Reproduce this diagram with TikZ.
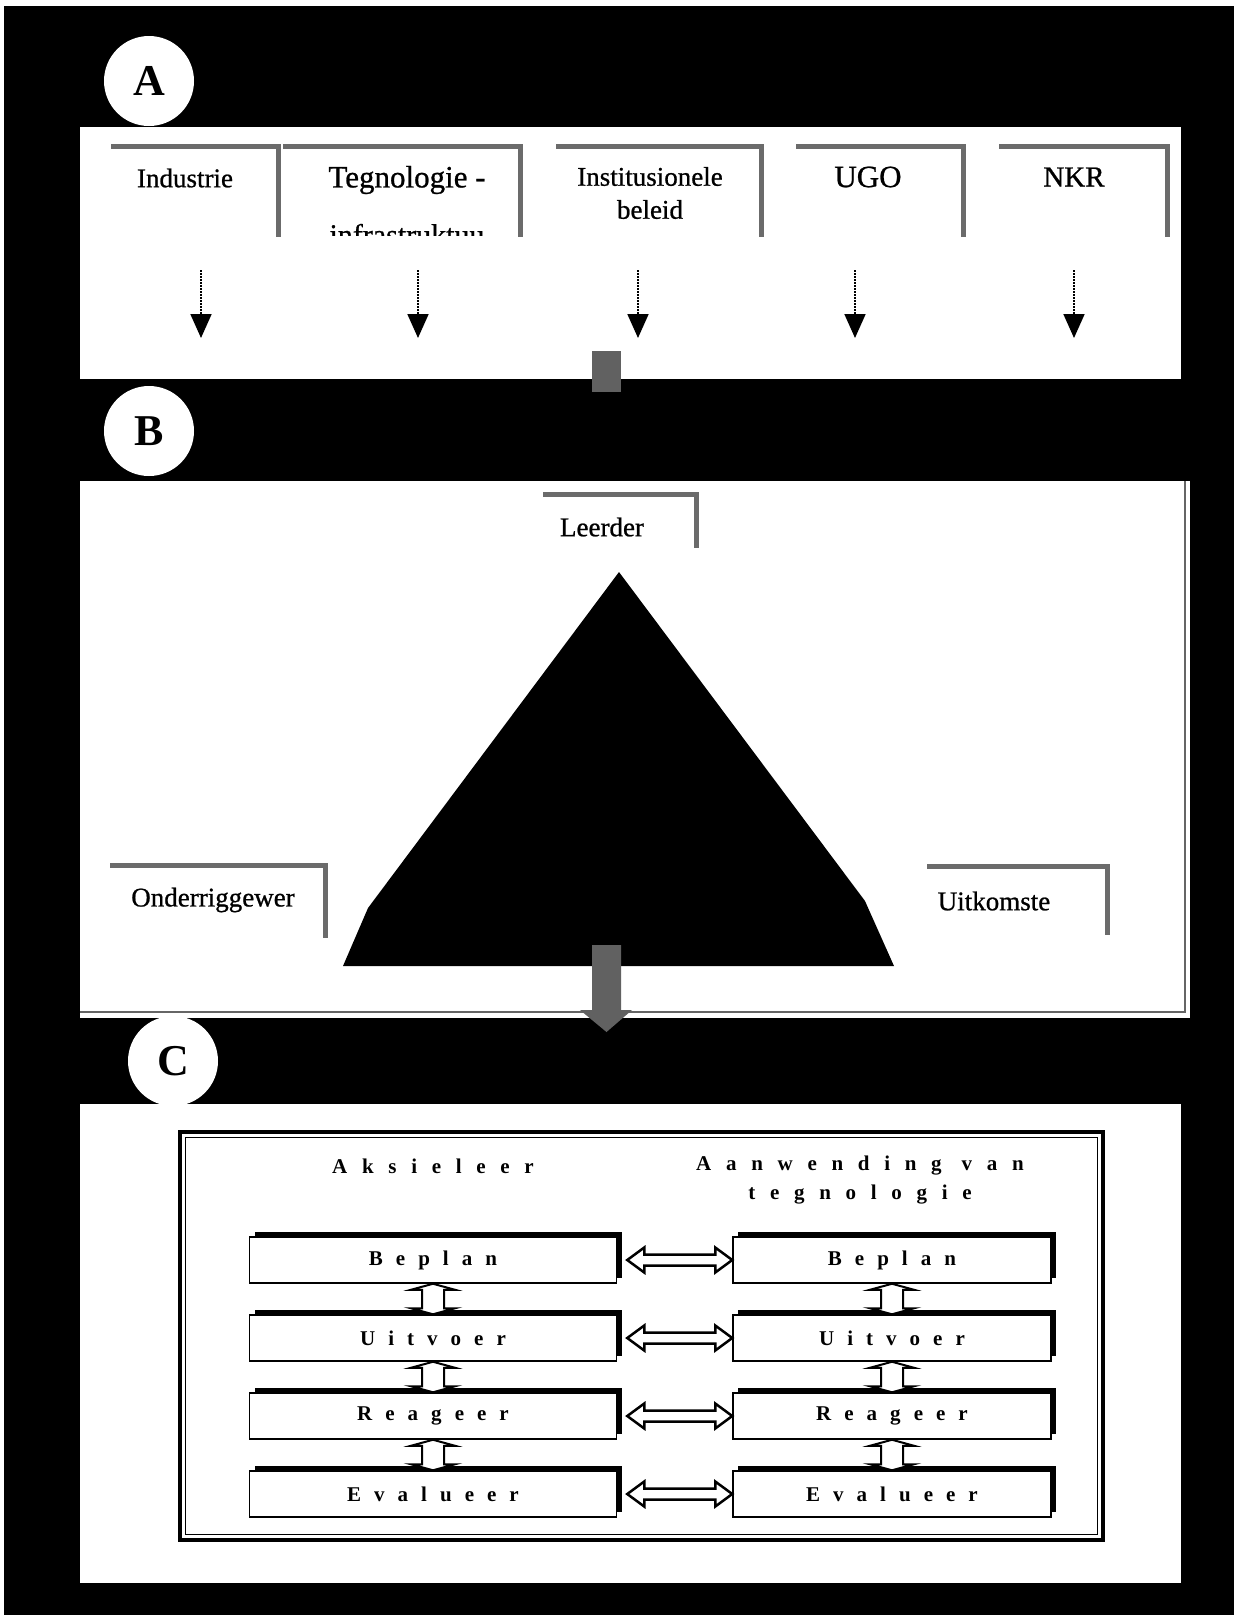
\documentclass[tikz,border=0pt]{standalone}
\usepackage{fontspec}
\setmainfont{Liberation Serif}
\newfontfamily\labelfont{Liberation Serif}[FakeBold=0.8]
\newfontfamily\boxfont{Liberation Serif}[LetterSpace=62]
\newfontfamily\headfont{Liberation Serif}[LetterSpace=70]
\usetikzlibrary{calc,arrows.meta,shadows}

% outlined double arrows between two named points
\newcommand\hdarrow[2]{\draw[openarrow] ($(#1)$) -- ($(#1)+(17,-12.5)$) -- ($(#1)+(17,-5.5)$) -- ($(#2)+(-17,-5.5)$) -- ($(#2)+(-17,-12.5)$) -- ($(#2)$) -- ($(#2)+(-17,12.5)$) -- ($(#2)+(-17,5.5)$) -- ($(#1)+(17,5.5)$) -- ($(#1)+(17,12.5)$) -- cycle;}
\newcommand\vdarrow[2]{\draw[openarrow, line width=2pt] ($(#1)$) -- ($(#1)+(22,6)$) -- ($(#1)+(11,6)$) -- ($(#2)+(11,-6)$) -- ($(#2)+(22,-6)$) -- ($(#2)$) -- ($(#2)+(-22,-6)$) -- ($(#2)+(-11,-6)$) -- ($(#1)+(-11,6)$) -- ($(#1)+(-22,6)$) -- cycle;}

\tikzset{
  panel/.style={fill=white},
  badge/.style={circle, fill=white, minimum size=90pt, inner sep=0pt, font=\fontsize{44}{44}\selectfont\bfseries},
  tab/.style={draw=black!58, line width=5pt, line join=miter},
  label/.style={font=\labelfont\fontsize{27}{33}\selectfont, align=center, inner sep=0pt},
  flowarrow/.style={line width=1.8pt, dash pattern=on 2pt off 1pt, -{Triangle[width=21pt,length=24pt]}},
  grayblock/.style={fill=black!62},
  stepbox/.style={draw=black, line width=1.5pt, fill=white, inner sep=0pt,
    font=\boxfont\bfseries\fontsize{21}{21}\selectfont,
    drop shadow={shadow xshift=5pt, shadow yshift=5pt, fill=black, opacity=1}},
  openarrow/.style={draw=black, line width=2.5pt, fill=white, line join=miter},
  headtext/.style={font=\headfont\bfseries\fontsize{21}{29}\selectfont, align=center, inner sep=0pt},
}

\begin{document}
\begin{tikzpicture}[x=1pt,y=-1pt]
\useasboundingbox (0,0) rectangle (1234,1615);
\fill[white] (0,0) rectangle (1234,1615);
\fill[black] (4,6) rectangle (1234,1615);

% three panels
\fill[panel] (80,127) rectangle (1181,379);
\fill[panel] (80,481) rectangle (1190,1018);
\draw[black!60, line width=2pt] (80,1012) -- (1185,1012) -- (1185,481);
\fill[panel] (80,1104) rectangle (1181,1583);

% section badges
\node[badge] (cA) at (149,81) {A};
\node[badge] (cB) at (149,431) {B};
\node[badge] (cC) at (173,1061) {C};

% ---- section A ----
\draw[tab] (111,146) -- (278,146) -- (278,237);
\draw[tab] (283,146) -- (520,146) -- (520,237);
\draw[tab] (556,146) -- (761,146) -- (761,237);
\draw[tab] (796,146) -- (963,146) -- (963,237);
\draw[tab] (999,146) -- (1167,146) -- (1167,237);

\node[label] (industrie) at (185,178) {Industrie};
\node[label, font=\labelfont\fontsize{31}{31}\selectfont] (tegno) at (407,180) {Tegnologie -};
\begin{scope}
  \clip (283,190) rectangle (515,235);
  \node[label, font=\labelfont\fontsize{30}{30}\selectfont, anchor=base] (infra) at (407,245) {infrastruktuu};
\end{scope}
\node[label] (instit) at (650,193) {Institusionele\\beleid};
\node[label, font=\labelfont\fontsize{31}{31}\selectfont] (ugo) at (868,177) {UGO};
\node[label, font=\labelfont\fontsize{29}{29}\selectfont] (nkr) at (1074,177) {NKR};

\foreach \n/\x in {1/201,2/418,3/638,4/855,5/1074}{
  \coordinate (f\n s) at (\x,270);
  \coordinate (f\n e) at (\x,338);
  \draw[flowarrow] (f\n s) -- (f\n e);
}

\node[grayblock, minimum width=29pt, minimum height=41pt, inner sep=0pt] (linkAB) at (606.5,371.5) {};

% ---- section B ----
\fill[black] (619,572) -- (865,901) -- (894,966) -- (343,966) -- (368,908) -- cycle;

\draw[tab] (543,494) -- (696,494) -- (696,548);
\draw[tab] (110,865) -- (325,865) -- (325,938);
\draw[tab] (927,866) -- (1107,866) -- (1107,935);

\node[label] (leerder) at (602,527) {Leerder};
\node[label] (onder) at (213,900) {Onderriggewer};
\node[label] (uitk) at (994,901) {Uitkomste};

\fill[grayblock] (592,945) -- (621,945) -- (621,1010) -- (632,1010) -- (606.5,1032) -- (580,1010) -- (592,1010) -- cycle;

% ---- section C ----
\draw[line width=4.5pt] (180,1132) rectangle (1103,1540);
\draw[line width=1.3pt] (185.5,1137.5) rectangle (1097.5,1534.5);

\node[headtext] (hL) at (433,1166) {Aksieleer};
\node[headtext] (hR) at (860,1180) {Aanwending van\\tegnologie};

\foreach \i/\y/\t in {1/1260/Beplan,2/1338/Uitvoer,3/1416/Reageer,4/1494/Evalueer}{
  \node[stepbox, minimum width=367pt, minimum height=46pt] (L\i) at (433,\y) {\t};
  \node[stepbox, minimum width=318pt, minimum height=46pt] (R\i) at (892,\y) {\t};
}

\foreach \i in {1,2,3,4}{
  \coordinate (h\i) at ($(L\i.east)+(10,0)$);
  \hdarrow{h\i}{R\i.west}
}

\vdarrow{L1.south}{L2.north}
\vdarrow{L2.south}{L3.north}
\vdarrow{L3.south}{L4.north}
\vdarrow{R1.south}{R2.north}
\vdarrow{R2.south}{R3.north}
\vdarrow{R3.south}{R4.north}
\end{tikzpicture}
\end{document}
